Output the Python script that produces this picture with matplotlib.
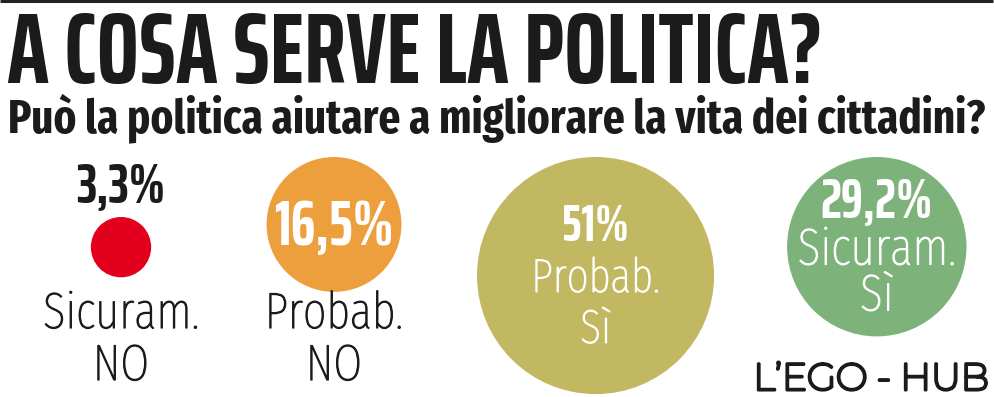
import numpy as np
import matplotlib
matplotlib.use("Agg")
import matplotlib.pyplot as plt
from matplotlib.patches import Circle
import matplotlib.patheffects as pe

# data
categories = ["Sicuram.\nNO", "Probab.\nNO", "Probab.\nSì", "Sicuram.\nSì"]
values = [3.3, 16.5, 51.0, 29.2]
value_labels = ["3,3%", "16,5%", "51%", "29,2%"]

title = "A COSA SERVE LA POLITICA?"
subtitle = "Può la politica aiutare a migliorare la vita dei cittadini?"
credit = "L’EGO - HUB"

# styles
colors = ["#E2001C", "#EE9F3D", "#C2B862", "#7DB37B"]
value_size = [40, 45, 37, 40]
inner_size = [36.5, 36.5, 34, 37]
inner_step = [0, 0, 51, 46]
NARROW = ["Saira ExtraCondensed", "Fira Sans Extra Condensed", "DejaVu Sans"]
COND = ["Fira Sans Extra Condensed", "Roboto Condensed", "DejaVu Sans"]
TXT = "#1b1b1b"

W, H = 994, 397
fig = plt.figure(figsize=(W / 100, H / 100), dpi=100)
ax = fig.add_axes([0, 0, 1, 1])
ax.set_xlim(0, W)
ax.set_ylim(H, 0)
ax.axis("off")

# thin rule at the top
ax.plot([0, 993], [1.2, 1.2], color="#222222", lw=2.2, solid_capstyle="butt")

ax.text(7, 83, title, family=NARROW, weight="bold", fontsize=72, color=TXT,
        va="baseline", ha="left")
ax.text(8, 132, subtitle, family=COND, weight="bold", fontsize=33.6, color=TXT,
        va="baseline", ha="left")

# circle areas proportional to the values, packed left to right
radii = 16.6 * np.sqrt(values)
slots = np.maximum(2 * radii, 140)
gap = 73
left = 51
centers = []
for s in slots:
    centers.append(left + s / 2)
    left += s + gap


def cap_px(size):
    return 0.689 * size * 100 / 72


def thin(col):
    # light weight, thickened a touch
    return [pe.withStroke(linewidth=0.9, foreground=col)]


top = 157
for i, (v, lab, cat) in enumerate(zip(values, value_labels, categories)):
    r = radii[i]
    cx = centers[i]
    small = r < 40
    cy = (top + 60 + r) if small else (top + r)
    ax.add_patch(Circle((cx, cy), r, facecolor=colors[i], edgecolor="none"))
    lines = cat.split("\n")
    if small:
        # value label sits above the dot
        ax.text(cx, 203, lab, family=NARROW, weight="bold", fontsize=value_size[i],
                color=TXT, ha="center", va="baseline")
    if r < 80:
        if not small:
            ax.text(cx, cy + 0.65 * value_size[i] * 100 / 72 / 2, lab, family=NARROW,
                    weight="bold", fontsize=value_size[i], color="white",
                    ha="center", va="baseline")
        for j, ln in enumerate(lines):
            ax.text(cx, 328 + 52 * j, ln, family=COND, weight="light",
                    fontsize=inner_size[i], color=TXT, ha="center", va="baseline",
                    path_effects=thin(TXT))
    else:
        step = inner_step[i]
        cap = cap_px(inner_size[i])
        ax.text(cx, cy + cap / 2 - step, lab, family=NARROW, weight="bold",
                fontsize=value_size[i], color="white", ha="center", va="baseline")
        for j, ln in enumerate(lines):
            ax.text(cx, cy + cap / 2 + j * step, ln, family=COND, weight="light",
                    fontsize=inner_size[i], color="white",
                    ha="center", va="baseline", path_effects=thin("white"))

ax.text(989, 390, credit, family=["Montserrat", "DejaVu Sans"], weight="bold",
        fontsize=27, color=TXT, ha="right", va="baseline",
        path_effects=[pe.withStroke(linewidth=2.2, foreground=TXT)])

fig.savefig("out.png", dpi=100)
